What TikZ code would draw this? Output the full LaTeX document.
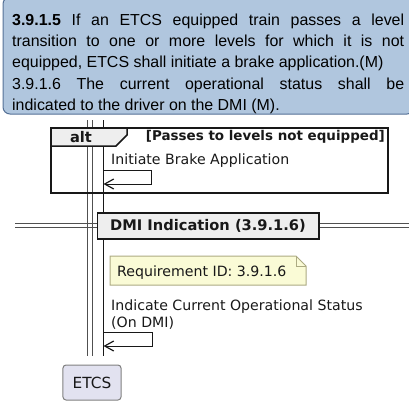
\documentclass[tikz,border=0pt]{standalone}
\usepackage{fontspec}
\setmainfont{Liberation Sans}
\newfontfamily\dv{DejaVu Sans}
\usetikzlibrary{arrows.meta}
\definecolor{reqfill}{RGB}{176,198,222}
\definecolor{reqdraw}{RGB}{84,112,150}
\definecolor{notefill}{RGB}{250,251,214}
\definecolor{notedraw}{RGB}{172,170,130}
\definecolor{partfill}{RGB}{226,226,240}
\definecolor{grpfill}{RGB}{238,238,238}
\definecolor{ink}{RGB}{24,24,24}
\definecolor{lifeink}{RGB}{80,80,80}
\tikzset{
  reqbox/.style={draw=reqdraw, fill=reqfill, line width=1bp, rounded corners=7bp},
  lifeline/.style={draw=lifeink, line width=1bp},
  grpframe/.style={draw=ink, line width=1.5bp},
  grptab/.style={draw=ink, line width=1.5bp, fill=grpfill},
  msgtext/.style={font=\dv\fontsize{14.2}{17}\selectfont, inner sep=0, anchor=base west, text=ink, align=left},
  boldtext/.style={font=\dv\bfseries\fontsize{14.7}{17}\selectfont, inner sep=0, text=ink},
  selfmsg/.style={draw=ink, line width=1bp, -{Straight Barb[length=9bp,width=10bp,line width=1.2bp]}},
  divline/.style={draw=lifeink, line width=1bp},
  notebox/.style={draw=notedraw, fill=notefill, line width=1bp},
  partbox/.style={draw=gray, fill=partfill, line width=1bp, rounded corners=3bp, minimum width=58bp, minimum height=35bp, inner sep=0, font=\dv\fontsize{15.4}{17}\selectfont, text=ink}
}
\begin{document}
\begin{tikzpicture}[x=1bp,y=-1bp]
\useasboundingbox (0,0) rectangle (409,405);
% requirement text box
\draw[reqbox] (3,-3) rectangle (414,114);
\node[anchor=north west, text width=392bp, align=justify, inner sep=0, font=\fontsize{16}{21.2}\selectfont] (req) at (12,14)
  {\sloppy\textbf{3.9.1.5} If an ETCS equipped train passes a level\linebreak
   transition to one or more levels for which it is not\linebreak
   equipped, ETCS shall initiate a brake application.(M)\newline
   3.9.1.6 The current operational status shall be\linebreak
   indicated to the driver on the DMI (M).};
% lifelines
\coordinate (la) at (87,120); \coordinate (lae) at (87,356);
\coordinate (lb) at (92,120); \coordinate (lbe) at (92,356);
\coordinate (lc) at (103,120); \coordinate (lce) at (103,356);
\draw[lifeline] (la) -- (lae);
\draw[lifeline] (lb) -- (lbe);
\draw[lifeline, draw=ink] (lc) -- (lce);
% alt fragment
\draw[grpframe] (51,128) rectangle (388,193);
\draw[grptab] (51,128) -- (127,128) -- (127,135) -- (116,146) -- (51,146) -- cycle;
\node[boldtext] (alt) at (81,137.5) {alt};
\node[boldtext, font=\dv\bfseries\fontsize{13.5}{15}\selectfont, anchor=east] (guard) at (385,136.5) {[Passes to levels not equipped]};
\node[msgtext] (m1) at (111,164) {Initiate Brake Application};
\coordinate (s1a) at (103,170); \coordinate (s1b) at (151,170);
\coordinate (s1c) at (151,184); \coordinate (s1d) at (103.5,184);
\draw[selfmsg] (s1a) -- (s1b) -- (s1c) -- (s1d);
% divider
\coordinate (dl1) at (15,223.5); \coordinate (dr1) at (412,223.5);
\coordinate (dl2) at (15,227.5); \coordinate (dr2) at (412,227.5);
\draw[divline] (dl1) -- (dr1);
\draw[divline] (dl2) -- (dr2);
\draw[grptab] (97.5,213) rectangle (319,239);
\node[boldtext] (div) at (208,226) {DMI Indication (3.9.1.6)};
% note
\draw[notebox] (110,256) -- (296,256) -- (306,266) -- (306,285) -- (110,285) -- cycle;
\draw[notebox, fill=none] (296,256) -- (296,266) -- (306,266);
\node[msgtext] (note) at (117,276.5) {Requirement ID: 3.9.1.6};
% second self message
\node[msgtext] (m2) at (111,310) {Indicate Current Operational Status};
\node[msgtext] (m2b) at (111,327) {(On DMI)};
\coordinate (s2a) at (103,332); \coordinate (s2b) at (152,332);
\coordinate (s2c) at (152,346); \coordinate (s2d) at (103.5,346);
\draw[selfmsg] (s2a) -- (s2b) -- (s2c) -- (s2d);
% participant
\node[partbox] (etcs) at (92,382.5) {ETCS};
\end{tikzpicture}
\end{document}
